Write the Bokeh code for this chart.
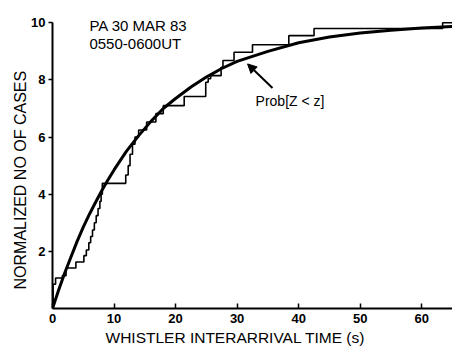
from bokeh.plotting import figure
from bokeh.models import Label, Arrow, NormalHead, FixedTicker, Title
from bokeh.embed import file_html
from bokeh.resources import INLINE

# Empirical staircase (step "after"): jump times (s) and normalized levels
step_t = [0, 0.1, 0.5, 1.6, 2.2, 3.8, 5.1, 5.5, 5.9, 6.2, 6.5, 6.8, 7.1, 7.4, 7.7, 7.9, 8.1,
          11.9, 12.3, 12.6, 13.0, 13.4, 14.0, 15.3, 16.8, 18.0, 21.4, 24.9, 25.3, 25.7,
          27.4, 27.7, 29.5, 32.5, 38.4, 42.5, 63.4, 65.0]
step_v = [0, 0.85, 1.07, 1.15, 1.42, 1.63, 1.85, 2.05, 2.3, 2.52, 2.75, 3.0, 3.25, 3.5, 3.75, 4.0, 4.38,
          4.67, 5.0, 5.4, 5.75, 6.0, 6.25, 6.53, 6.82, 7.1, 7.42, 7.92, 8.04, 8.15,
          8.44, 8.68, 8.97, 9.23, 9.55, 9.8, 10.0, 10.0]

# Theoretical curve Prob[Z<z]
curve_t = [0, 1, 2, 3, 4, 5, 6, 7, 8, 9, 10, 12, 14, 16, 18, 20, 22.5, 25, 27.5, 30,
           35, 40, 45, 50, 55, 60, 65]
curve_v = [0, 0.65, 1.25, 1.8, 2.35, 2.85, 3.3, 3.72, 4.12, 4.5, 4.85, 5.5, 6.05, 6.55, 7.0,
           7.35, 7.75, 8.1, 8.4, 8.65, 9.0, 9.3, 9.5, 9.64, 9.74, 9.82, 9.87]

x_ticks = [0, 10, 20, 30, 40, 50, 60]
y_ticks = [2, 4, 6, 8, 10]

FONT = "Liberation Sans"

p = figure(width=452, height=347, x_range=(0, 65), y_range=(0, 10.5),
           output_backend="svg", toolbar_location=None,
           min_border_left=52, min_border_right=0, min_border_top=8, min_border_bottom=38)
p.outline_line_color = None
p.xgrid.visible = False
p.ygrid.visible = False

p.step(step_t, step_v, mode="after", line_color="black", line_width=1.6)
p.line(curve_t, curve_v, line_color="black", line_width=3)

# axes
for ax in (p.xaxis, p.yaxis):
    ax.axis_line_width = 2
    ax.axis_line_color = "black"
    ax.major_tick_line_width = 1.5
    ax.minor_tick_line_color = None
    ax.major_label_text_font = FONT
    ax.major_label_text_font_size = "13px"
    ax.major_label_text_font_style = "bold"
    ax.major_label_text_color = "black"
p.xaxis.ticker = FixedTicker(ticks=x_ticks)
p.yaxis.ticker = FixedTicker(ticks=y_ticks)
p.yaxis.bounds = (0, 10)
p.xaxis.major_tick_in = 5
p.xaxis.major_tick_out = 0
p.xaxis.major_label_standoff = 5
p.yaxis.major_tick_in = 0
p.yaxis.major_tick_out = 4
p.yaxis.major_label_standoff = 3

# axis titles
p.add_layout(Title(text="WHISTLER INTERARRIVAL TIME (s)", align="left", offset=53,
                   text_font=FONT, text_font_size="15.5px", text_font_style="normal",
                   text_color="black", standoff=3), "below")
p.add_layout(Title(text="NORMALIZED NO  OF CASES", align="left", offset=19,
                   text_font=FONT, text_font_size="16px", text_font_style="normal",
                   text_color="black", standoff=0), "left")

# annotations
p.add_layout(Label(x=6.0, y=9.9, text="PA  30 MAR 83", text_baseline="alphabetic",
                   text_font=FONT, text_font_size="15px", text_color="black"))
p.add_layout(Label(x=6.0, y=9.27, text="0550-0600UT", text_baseline="alphabetic",
                   text_font=FONT, text_font_size="15px", text_color="black"))
p.add_layout(Label(x=33.0, y=7.28, text="Prob[Z < z]", text_baseline="alphabetic",
                   text_font=FONT, text_font_size="14px", text_color="black"))
p.add_layout(Arrow(x_start=35.75, y_start=7.72, x_end=31.7, y_end=8.56,
                   line_width=2, line_color="black",
                   end=NormalHead(size=9, fill_color="black", line_color="black")))

open("out.html", "w").write(file_html(p, INLINE))
